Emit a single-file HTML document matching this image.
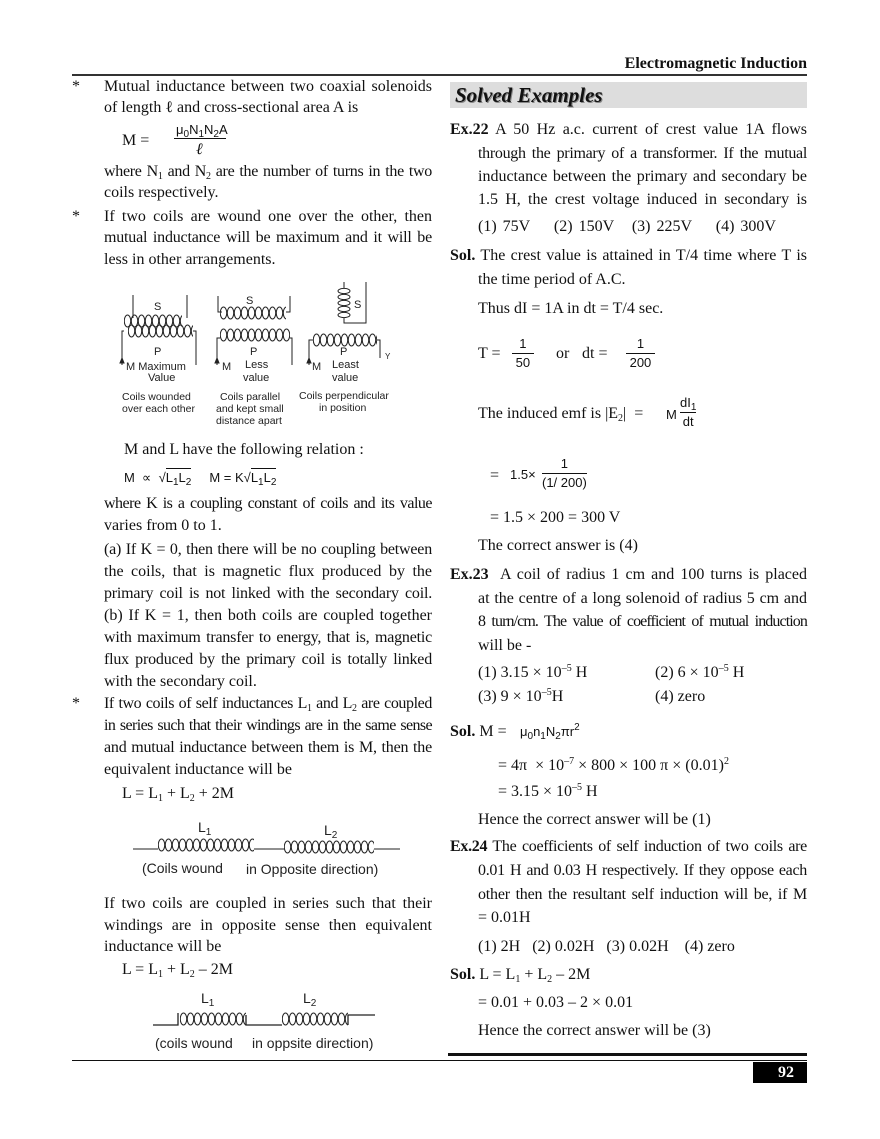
<!DOCTYPE html>
<html><head><meta charset="utf-8">
<style>
body{margin:0;background:#fff;}
#p{position:relative;width:880px;height:1139px;overflow:hidden;font-family:"Liberation Serif",serif;font-size:16px;color:#111;}
#p div{position:absolute;line-height:20px;white-space:nowrap;}
.jl{width:328px;text-align:justify;text-align-last:justify;}
.jr{width:329px;text-align:justify;text-align-last:justify;}
.s{font-family:"Liberation Sans",sans-serif;font-size:13px;}
sub{font-size:10px;vertical-align:-3px;line-height:0}
sup{font-size:10px;vertical-align:6px;line-height:0}
b{font-weight:bold}
.fr{display:inline-block;text-align:center;vertical-align:middle;font-family:"Liberation Sans",sans-serif;font-size:13px;line-height:18px}
.fr span{display:block}
.fr .n{border-bottom:1px solid #111}
.ov{border-top:1px solid #111;padding-top:1px}
</style></head><body><div id="p">
<svg width="0" height="0" style="position:absolute"><defs>
<pattern id="c" width="7" height="16" patternUnits="userSpaceOnUse"><ellipse cx="3.5" cy="8" rx="3.2" ry="6" fill="none" stroke="#222" stroke-width="1"/></pattern>
<pattern id="cv" width="16" height="6" patternUnits="userSpaceOnUse"><ellipse cx="8" cy="3" rx="6" ry="2.6" fill="none" stroke="#222" stroke-width="1"/></pattern>
</defs></svg>
<div style="right:73px;top:54px;font-weight:bold;font-size:16px">Electromagnetic Induction</div>
<div style="left:72px;top:74px;width:735px;height:2px;background:#333"></div>
<div style="left:450px;top:82px;width:357px;height:26px;background:#ddd"></div>
<div style="left:455px;top:83px;font-weight:bold;font-style:italic;font-size:21px;line-height:24px;text-shadow:1px 1px 0 #888">Solved Examples</div>

<!-- LEFT -->
<div style="left:72px;top:77px">*</div>
<div class="jl" style="left:104px;top:77px">Mutual inductance between two coaxial solenoids</div>
<div style="left:104px;top:98px">of length ℓ and cross-sectional area A is</div>
<div style="left:122px;top:131px">M =</div>
<div style="left:176px;top:120px" class="s">μ<sub>0</sub>N<sub>1</sub>N<sub>2</sub>A</div>
<div style="left:174px;top:138px;width:52px;height:1px;background:#111"></div>
<div style="left:196px;top:140px;font-style:italic">ℓ</div>
<div class="jl" style="left:104px;top:162px;letter-spacing:-0.3px">where N<sub>1</sub> and N<sub>2</sub> are the number of turns in the two</div>
<div style="left:104px;top:183px">coils respectively.</div>
<div style="left:72px;top:207px">*</div>
<div class="jl" style="left:104px;top:207px">If two coils are wound one over the other, then</div>
<div class="jl" style="left:104px;top:228px;letter-spacing:-0.2px">mutual inductance will be maximum and it will be</div>
<div style="left:104px;top:250px">less in other arrangements.</div>

<svg style="position:absolute;left:100px;top:280px" width="300" height="155" viewBox="0 0 300 155">
<g stroke="#222" fill="none" stroke-width="1">
<g transform="translate(24,33)"><rect width="58" height="16" fill="url(#c)" stroke="none"/></g>
<g transform="translate(28,43)"><rect width="65" height="16" fill="url(#c)" stroke="none"/></g>
<path d="M33 15V38M87 15V38M24 51H22V85M93 51H96V85"/>
<path d="M118 16V32H122M190 16V32H186"/>
<g transform="translate(120,25)"><rect width="66" height="16" fill="url(#c)" stroke="none"/></g>
<g transform="translate(120,47)"><rect width="70" height="16" fill="url(#c)" stroke="none"/></g>
<path d="M120 58H117V85M190 58H192V85"/>
<g transform="translate(236,8)"><rect width="16" height="30" fill="url(#cv)" stroke="none"/></g>
<path d="M244 8V2M244 38V43H266V2"/>
<g transform="translate(213,52)"><rect width="64" height="16" fill="url(#c)" stroke="none"/></g>
<path d="M213 60H209V85M277 60H280V78"/>
<path d="M22 78l-2 5h4zM117 78l-2 5h4zM209 78l-2 5h4z" fill="#222"/>
</g>
<g font-family="Liberation Sans,sans-serif" font-size="11" fill="#222">
<text x="54" y="30">S</text><text x="54" y="75">P</text>
<text x="146" y="24">S</text><text x="150" y="75">P</text>
<text x="254" y="28">S</text><text x="240" y="75">P</text><text x="285" y="79" font-size="8">Y</text>
<text x="26" y="90">M Maximum</text><text x="48" y="101">Value</text>
<text x="122" y="90">M</text><text x="145" y="88">Less</text><text x="143" y="101">value</text>
<text x="212" y="90">M</text><text x="232" y="88">Least</text><text x="232" y="101">value</text>
<g font-size="10.5"><text x="22" y="120">Coils wounded</text><text x="22" y="132">over each other</text>
<text x="120" y="120">Coils parallel</text><text x="116" y="132">and kept small</text><text x="116" y="144">distance apart</text>
<text x="199" y="119">Coils perpendicular</text><text x="219" y="131">in position</text></g>
</g></svg>

<div style="left:124px;top:440px">M and L have the following relation :</div>
<div class="s" style="left:124px;top:468px">M &nbsp;∝ &nbsp;√<span class="ov">L<sub>1</sub>L<sub>2</sub></span> &nbsp;&nbsp;&nbsp; M = K√<span class="ov">L<sub>1</sub>L<sub>2</sub></span></div>
<div class="jl" style="left:104px;top:494px;letter-spacing:-0.5px">where K is a coupling constant of coils and its value</div>
<div style="left:104px;top:516px">varies from 0 to 1.</div>
<div class="jl" style="left:104px;top:540px;letter-spacing:-0.2px">(a) If K = 0, then there will be no coupling between</div>
<div class="jl" style="left:104px;top:562px">the coils, that is magnetic flux produced by the</div>
<div class="jl" style="left:104px;top:584px;letter-spacing:-0.2px">primary coil is not linked with the secondary coil.</div>
<div class="jl" style="left:104px;top:606px">(b) If K = 1, then both coils are coupled together</div>
<div class="jl" style="left:104px;top:628px;letter-spacing:-0.2px">with maximum transfer to energy, that is, magnetic</div>
<div class="jl" style="left:104px;top:650px;letter-spacing:-0.2px">flux produced by the primary coil is totally linked</div>
<div style="left:104px;top:672px">with the secondary coil.</div>
<div style="left:72px;top:694px">*</div>
<div class="jl" style="left:104px;top:694px;letter-spacing:-0.4px">If two coils of self inductances L<sub>1</sub> and L<sub>2</sub> are coupled</div>
<div class="jl" style="left:104px;top:716px;letter-spacing:-0.6px">in series such that their windings are in the same sense</div>
<div class="jl" style="left:104px;top:738px;letter-spacing:-0.2px">and mutual inductance between them is M, then the</div>
<div style="left:104px;top:760px">equivalent inductance will be</div>
<div style="left:122px;top:784px">L = L<sub>1</sub> + L<sub>2</sub> + 2M</div>

<svg style="position:absolute;left:100px;top:815px" width="320" height="65" viewBox="0 0 320 65">
<g transform="translate(58,22)"><rect width="96" height="16" fill="url(#c)"/></g>
<g transform="translate(184,24)"><rect width="90" height="16" fill="url(#c)"/></g>
<path d="M33 34H58M154 34H184M274 34H300" stroke="#222" fill="none"/>
<g font-family="Liberation Sans,sans-serif" font-size="14" fill="#222">
<text x="98" y="17">L<tspan font-size="10" dy="3">1</tspan></text>
<text x="224" y="20">L<tspan font-size="10" dy="3">2</tspan></text>
<text x="42" y="58">(Coils wound</text><text x="146" y="59">in Opposite direction)</text>
</g></svg>

<div class="jl" style="left:104px;top:894px">If two coils are coupled in series such that their</div>
<div class="jl" style="left:104px;top:916px">windings are in opposite sense then equivalent</div>
<div style="left:104px;top:937px">inductance will be</div>
<div style="left:122px;top:960px">L = L<sub>1</sub> + L<sub>2</sub> – 2M</div>

<svg style="position:absolute;left:100px;top:985px" width="320" height="70" viewBox="0 0 320 70">
<g transform="translate(80,26)"><rect width="66" height="16" fill="url(#c)"/></g>
<g transform="translate(182,26)"><rect width="66" height="16" fill="url(#c)"/></g>
<path d="M53 40H78V28M146 30V40H182M248 40V30H275" stroke="#222" stroke-width="1.3" fill="none"/>
<g font-family="Liberation Sans,sans-serif" font-size="14" fill="#222">
<text x="101" y="18">L<tspan font-size="10" dy="3">1</tspan></text>
<text x="203" y="18">L<tspan font-size="10" dy="3">2</tspan></text>
<text x="55" y="63">(coils wound</text><text x="152" y="63">in oppsite direction)</text>
</g></svg>

<!-- RIGHT -->
<div class="jr" style="left:450px;top:120px;width:357px"><b>Ex.22</b> A 50 Hz a.c. current of crest value 1A flows</div>
<div class="jr" style="left:478px;top:144px;letter-spacing:-0.3px">through the primary of a transformer. If the mutual</div>
<div class="jr" style="left:478px;top:167px">inductance between the primary and secondary be</div>
<div class="jr" style="left:478px;top:190px">1.5 H, the crest voltage induced in secondary is</div>
<div style="left:478px;top:217px;word-spacing:2px">(1) 75V &nbsp;&nbsp;&nbsp;(2) 150V &nbsp;&nbsp;(3) 225V &nbsp;&nbsp;&nbsp;(4) 300V</div>
<div class="jr" style="left:450px;top:246px;width:357px"><b>Sol.</b> The crest value is attained in T/4 time where T is</div>
<div style="left:478px;top:270px">the time period of A.C.</div>
<div style="left:478px;top:299px">Thus dI = 1A in dt = T/4 sec.</div>
<div style="left:478px;top:344px">T =</div>
<div style="left:512px;top:335px"><span class="fr"><span class="n">&nbsp;&nbsp;1&nbsp;&nbsp;</span><span>&nbsp;50&nbsp;</span></span></div>
<div style="left:556px;top:344px">or</div>
<div style="left:582px;top:344px">dt =</div>
<div style="left:626px;top:335px"><span class="fr"><span class="n">&nbsp;&nbsp;&nbsp;1&nbsp;&nbsp;&nbsp;</span><span>200</span></span></div>
<div style="left:478px;top:404px">The induced emf is |E<sub>2</sub>| &nbsp;=</div>
<div class="s" style="left:666px;top:405px">M</div>
<div style="left:680px;top:394px"><span class="fr"><span class="n">dI<sub>1</sub></span><span>dt</span></span></div>
<div style="left:490px;top:466px">=</div>
<div class="s" style="left:510px;top:465px">1.5×</div>
<div style="left:542px;top:455px"><span class="fr"><span class="n">&nbsp;&nbsp;&nbsp;&nbsp;&nbsp;1&nbsp;&nbsp;&nbsp;&nbsp;&nbsp;</span><span>(1/ 200)</span></span></div>
<div style="left:490px;top:508px">= 1.5 × 200 = 300 V</div>
<div style="left:478px;top:536px">The correct answer is (4)</div>
<div class="jr" style="left:450px;top:565px;width:357px"><b>Ex.23</b>&nbsp; A coil of radius 1 cm and 100 turns is placed</div>
<div class="jr" style="left:478px;top:589px">at the centre of a long solenoid of radius 5 cm and</div>
<div class="jr" style="left:478px;top:612px;letter-spacing:-0.9px">8 turn/cm. The value of coefficient of mutual induction</div>
<div style="left:478px;top:636px">will be -</div>
<div style="left:478px;top:663px">(1) 3.15 × 10<sup>–5</sup> H</div>
<div style="left:655px;top:663px">(2) 6 × 10<sup>–5</sup> H</div>
<div style="left:478px;top:687px">(3) 9 × 10<sup>–5</sup>H</div>
<div style="left:655px;top:687px">(4) zero</div>
<div style="left:450px;top:722px"><b>Sol.</b> M =</div>
<div class="s" style="left:520px;top:722px">μ<sub>0</sub>n<sub>1</sub>N<sub>2</sub>πr<sup>2</sup></div>
<div style="left:498px;top:756px">= 4π &nbsp;× 10<sup>–7</sup> × 800 × 100 π × (0.01)<sup>2</sup></div>
<div style="left:498px;top:782px">= 3.15 × 10<sup>–5</sup> H</div>
<div style="left:478px;top:810px">Hence the correct answer will be (1)</div>
<div class="jr" style="left:450px;top:837px;width:357px;letter-spacing:-0.3px"><b>Ex.24</b> The coefficients of self induction of two coils are</div>
<div class="jr" style="left:478px;top:861px;letter-spacing:-0.3px">0.01 H and 0.03 H respectively. If they oppose each</div>
<div class="jr" style="left:478px;top:885px;letter-spacing:-0.2px">other then the resultant self induction will be, if M</div>
<div style="left:478px;top:908px">= 0.01H</div>
<div style="left:478px;top:937px">(1) 2H &nbsp;&nbsp;(2) 0.02H &nbsp;&nbsp;(3) 0.02H &nbsp;&nbsp;&nbsp;(4) zero</div>
<div style="left:450px;top:965px"><b>Sol.</b> L = L<sub>1</sub> + L<sub>2</sub> – 2M</div>
<div style="left:478px;top:993px">= 0.01 + 0.03 – 2 × 0.01</div>
<div style="left:478px;top:1021px">Hence the correct answer will be (3)</div>

<div style="left:448px;top:1053px;width:359px;height:3px;background:#111"></div>
<div style="left:72px;top:1060px;width:735px;height:1px;background:#111"></div>
<div style="left:753px;top:1062px;width:54px;height:21px;background:#000"></div>
<div style="left:778px;top:1062px;color:#fff;font-weight:bold;font-size:16px;line-height:21px">92</div>
</div></body></html>
